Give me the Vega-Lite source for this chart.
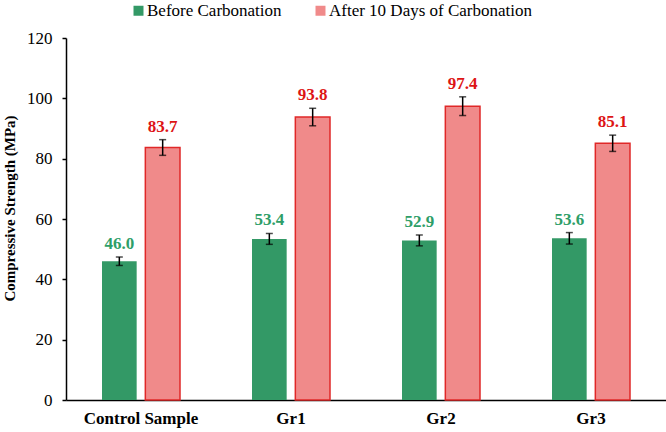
{
  "$schema": "https://vega.github.io/schema/vega-lite/v6.json",
  "width": 600,
  "height": 362,
  "autosize": {"type": "none"},
  "padding": {"left": 66, "top": 38, "right": 0, "bottom": 32},
  "background": "white",
  "config": {
    "view": {"stroke": null},
    "font": "Liberation Serif",
    "axis": {"grid": false, "domainColor": "#000000", "tickColor": "#000000", "labelColor": "#000000", "titleColor": "#000000", "labelFont": "Liberation Serif", "titleFont": "Liberation Serif"},
    "legend": {"labelFont": "Liberation Serif"},
    "text": {"font": "Liberation Serif"}
  },
  "data": {
    "values": [
      {"group": "Control Sample", "series": "Before Carbonation", "value": 46.0, "err": 1.4},
      {"group": "Control Sample", "series": "After 10 Days of Carbonation", "value": 83.7, "err": 2.6},
      {"group": "Gr1", "series": "Before Carbonation", "value": 53.4, "err": 1.8},
      {"group": "Gr1", "series": "After 10 Days of Carbonation", "value": 93.8, "err": 2.9},
      {"group": "Gr2", "series": "Before Carbonation", "value": 52.9, "err": 1.8},
      {"group": "Gr2", "series": "After 10 Days of Carbonation", "value": 97.4, "err": 3.1},
      {"group": "Gr3", "series": "Before Carbonation", "value": 53.6, "err": 1.9},
      {"group": "Gr3", "series": "After 10 Days of Carbonation", "value": 85.1, "err": 2.7}
    ]
  },
  "transform": [
    {"calculate": "datum.value - datum.err", "as": "lo"},
    {"calculate": "datum.value + datum.err", "as": "hi"}
  ],
  "encoding": {
    "x": {
      "field": "group", "type": "nominal", "sort": null,
      "scale": {"paddingInner": 0.48, "paddingOuter": 0.24},
      "axis": {"title": null, "labelAngle": 0, "ticks": false, "labelPadding": 10, "labelFont": "Liberation Serif", "labelFontSize": 17, "labelFontWeight": "bold", "domainWidth": 1.5}
    },
    "xOffset": {
      "field": "series", "type": "nominal",
      "sort": ["Before Carbonation", "After 10 Days of Carbonation"],
      "scale": {"paddingInner": 0.2, "paddingOuter": 0}
    }
  },
  "layer": [
    {
      "mark": {"type": "bar", "strokeWidth": 1.5},
      "encoding": {
        "y": {
          "field": "value", "type": "quantitative",
          "scale": {"domain": [0, 120], "nice": false},
          "axis": {"title": "Compressive Strength (MPa)", "titleFont": "Liberation Serif", "titleFontSize": 15, "titleFontWeight": "bold", "titleX": -57, "titleY": 170, "titleAngle": -90, "titleAlign": "center", "titleBaseline": "middle", "values": [0, 20, 40, 60, 80, 100, 120], "labelFont": "Liberation Serif", "labelFontSize": 17, "tickSize": 4, "labelPadding": 10, "domainWidth": 1.5, "tickWidth": 1.5}
        },
        "fill": {
          "field": "series", "type": "nominal",
          "scale": {"domain": ["Before Carbonation", "After 10 Days of Carbonation"], "range": ["#339966", "#F08A8A"]},
          "legend": {"title": null, "orient": "none", "direction": "horizontal", "legendX": 64, "legendY": -36, "padding": 0, "symbolType": "square", "symbolSize": 100, "symbolStrokeWidth": 0, "labelFont": "Liberation Serif", "labelFontSize": 17, "labelColor": "#000000", "labelOffset": 0, "columnPadding": 30, "labelLimit": 400}
        },
        "stroke": {
          "condition": {"test": "datum.series === 'After 10 Days of Carbonation'", "value": "#E02828"},
          "value": null
        }
      }
    },
    {
      "mark": {"type": "rule", "color": "#000000", "strokeWidth": 1.5},
      "encoding": {
        "y": {"field": "lo", "type": "quantitative"},
        "y2": {"field": "hi"}
      }
    },
    {
      "mark": {"type": "tick", "color": "#000000", "thickness": 1.5, "size": 7},
      "encoding": {"y": {"field": "lo", "type": "quantitative"}}
    },
    {
      "mark": {"type": "tick", "color": "#000000", "thickness": 1.5, "size": 7},
      "encoding": {"y": {"field": "hi", "type": "quantitative"}}
    },
    {
      "mark": {"type": "text", "baseline": "bottom", "dy": -4, "fontSize": 17, "fontWeight": "bold", "font": "Liberation Serif"},
      "encoding": {
        "y": {"field": "hi", "type": "quantitative"},
        "text": {"field": "value", "type": "quantitative", "format": ".1f"},
        "color": {
          "field": "series", "type": "nominal",
          "scale": {"domain": ["Before Carbonation", "After 10 Days of Carbonation"], "range": ["#2E9E68", "#DD1515"]},
          "legend": null
        }
      }
    }
  ]
}
